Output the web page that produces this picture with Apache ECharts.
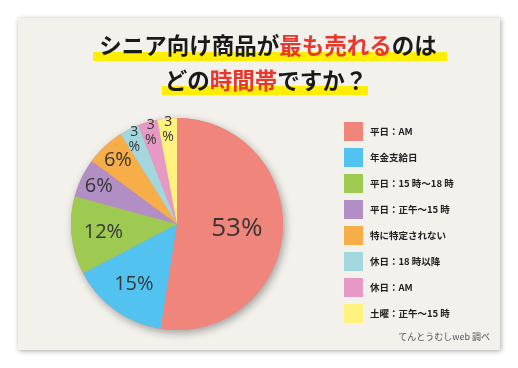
<!DOCTYPE html>
<html><head><meta charset="utf-8">
<script src="https://cdn.jsdelivr.net/npm/echarts@6/dist/echarts.min.js"></script>
<style>html,body{margin:0;padding:0;background:#fff}#c{width:518px;height:368px}</style>
</head><body><div id="c"></div>
<script>
const categories = ['平日：AM','年金支給日','平日：15 時〜18 時','平日：正午〜15 時','特に特定されない','休日：18 時以降','休日：AM','土曜：正午〜15 時'];
const values = [53, 15, 12, 6, 6, 3, 3, 3];
const colors = ['#F0857B','#52C3F1','#9ECA52','#B18FC4','#F7AD48','#A2D7DE','#E699C4','#FFF27E'];
const labelGroups = [
  {idx:[0], r0:8, size:26, wrap:false},
  {idx:[1,2], r0:36, size:20, wrap:false},
  {idx:[3,4], r0:62, size:20, wrap:false},
  {idx:[5,6,7], r0:78, size:14, wrap:true}
];
const CENTER = [177, 224], R = 106;
const total = values.reduce((a,b)=>a+b,0);
const chart = echarts.init(document.getElementById('c'));
const labelFont = '"Open Sans", "Noto Sans", sans-serif';
const series = [
  {type:'pie', name:'shadow', center:CENTER, radius:[0,R], silent:true, z:1,
   label:{show:false}, labelLine:{show:false},
   itemStyle:{color:'#F0857B', shadowBlur:8, shadowColor:'rgba(0,0,0,0.35)', shadowOffsetX:2, shadowOffsetY:3},
   data:[{name:'__all', value: total}]},
  {type:'pie', name:'main', center:CENTER, radius:[0,R], startAngle:90, clockwise:true, silent:true, z:2,
   label:{show:false}, labelLine:{show:false},
   data: categories.map((n,i)=>({name:n, value:values[i], itemStyle:{color:colors[i]}}))}
];
labelGroups.forEach(g=>{
  g.idx.forEach(k=>{
    series.push({type:'pie', center:CENTER, radius:[g.r0,R], startAngle:90, clockwise:true, silent:true, z:3,
      avoidLabelOverlap:false, labelLine:{show:false}, labelLayout:{hideOverlap:false},
      itemStyle:{color:'rgba(0,0,0,0)'},
      label:{position:'inside', fontFamily:labelFont, fontSize:g.size, color:'#363636', lineHeight: g.wrap?15:g.size,
        formatter: p => g.wrap ? p.value + '\n%' : p.value + '%'},
      data: categories.map((n,i)=>({name:n, value:values[i], label:{show:i===k}}))
    });
  });
});
chart.setOption({
  backgroundColor:'#ffffff',
  animation:false,
  graphic:[
    {type:'rect', shape:{x:18,y:18,width:482,height:332}, z:-10,
     style:{fill:'#F2F1EC', shadowBlur:5, shadowColor:'rgba(0,0,0,0.35)', shadowOffsetX:1, shadowOffsetY:1}},
    {type:'rect', shape:{x:93,y:52,width:354,height:9}, z:-5, style:{fill:'#FFEE00'}},
    {type:'rect', shape:{x:162,y:86,width:206,height:9}, z:-5, style:{fill:'#FFEE00'}},
    {type:'text', x:268, y:45, z:5, style:{
      text:'{k|シニア向け商品が}{r|最も売れる}{k|のは}', align:'center', verticalAlign:'middle',
      rich:{k:{fontSize:22.5, fontWeight:'bold', fill:'#1a1a1a', fontFamily:'"Noto Sans CJK JP"'},
            r:{fontSize:22.5, fontWeight:'bold', fill:'#E8382E', fontFamily:'"Noto Sans CJK JP"'}}}},
    {type:'text', x:266, y:80, z:5, style:{
      text:'{k|どの}{r|時間帯}{k|ですか？}', align:'center', verticalAlign:'middle',
      rich:{k:{fontSize:22.5, fontWeight:'bold', fill:'#1a1a1a', fontFamily:'"Noto Sans CJK JP"'},
            r:{fontSize:22.5, fontWeight:'bold', fill:'#E8382E', fontFamily:'"Noto Sans CJK JP"'}}}},
    {type:'text', right:28, top:332, z:5, style:{text:'てんとうむしweb 調べ', fontSize:9, fill:'#555', fontFamily:'"Noto Sans CJK JP"'}}
  ],
  legend:{orient:'vertical', left:344, top:122, itemWidth:19, itemHeight:19, itemGap:7, icon:'rect', padding:0,
    selectedMode:false,
    textStyle:{fontSize:9.5, fontWeight:'bold', color:'#222', fontFamily:'"Noto Sans CJK JP"', padding:[0,0,0,2]},
    data: categories.map((n,i)=>({name:n, itemStyle:{color:colors[i]}}))},
  series
});
</script></body></html>
